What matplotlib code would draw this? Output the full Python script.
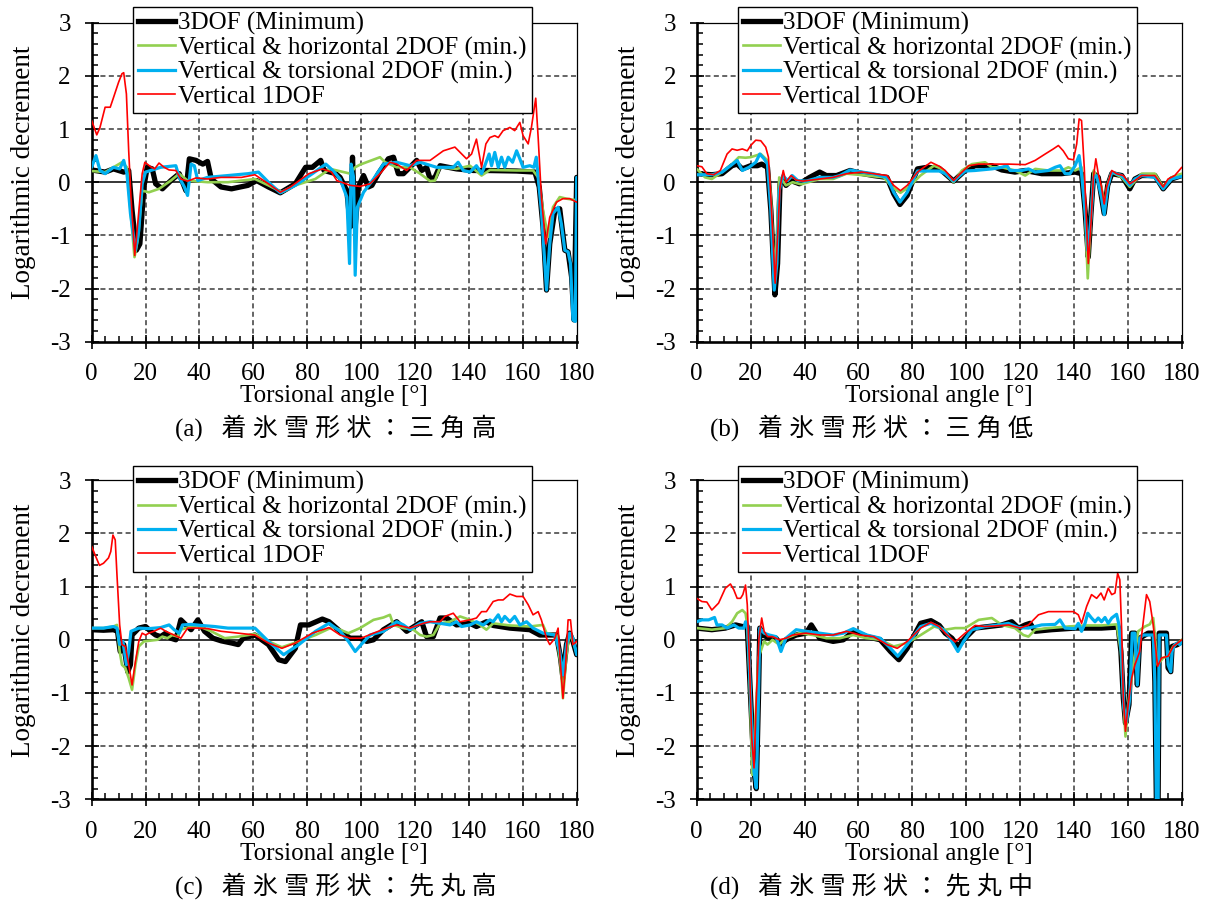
import numpy as np
import matplotlib
matplotlib.use("Agg")
import matplotlib.pyplot as plt
from matplotlib.lines import Line2D
from matplotlib.ticker import MultipleLocator

plt.rcParams['font.family'] = ['Liberation Serif', 'Noto Sans CJK JP']
plt.rcParams['axes.unicode_minus'] = False
plt.rcParams['font.size'] = 18

# ---------------------------------------------------------------------------
# Logarithmic decrement vs. torsional angle, (angle [deg], value) pairs
# ---------------------------------------------------------------------------
# (a) triangle, high
A_3DOF = [(0,0.23),(5,0.19),(8.1,0.25),(11.9,0.19),(13.75,0.22),(15,-0.53),(16.6,-1.28),(17.9,-1.16),(19.4,-0.09),(20.6,0.28),(22.5,0.25),(23.75,-0.03),(26.25,-0.125),(29.4,0.03),(32.5,0.16),(35,-0.16),(36.25,0.44),(38.75,0.41),(41.25,0.34),(43,0.39),(44.4,0.06),(48,-0.09),(51.9,-0.125),(58,-0.06),(61.25,0.03),(65.6,-0.09),(70,-0.2),(75.6,-0.03),(79.4,0.28),(81.9,0.28),(85,0.41),(86.25,0.22),(90.6,0.16),(92.2,0.09),(94.7,-0.16),(96,-0.84),(96.8,0.47),(97.8,-0.84),(99,-0.09),(100.9,0.125),(102.7,-0.09),(104,-0.06),(106.4,0.16),(110.1,0.44),(112,0.47),(113.8,0.16),(115.7,0.16),(118.1,0.28),(120.6,0.41),(122.5,0.22),(124.3,0.28),(125.6,0.06),(127.4,0.09),(129.3,0.31),(135.4,0.25),(141.6,0.22),(146.5,0.22),(157.7,0.21),(164.5,0.19),(166.1,-0.09),(167.5,-0.84),(168.8,-2.03),(170,-1.16),(171.9,-0.53),(173.7,-0.5),(175.6,-1.28),(176.8,-1.31),(178.1,-1.78),(179,-2.59),(180,0.09)]
A_VH2 = [(0,0.21),(5,0.19),(8.1,0.28),(11.25,0.375),(13.1,0.28),(14.4,-0.53),(15.9,-1.41),(17.1,-1.09),(18.75,-0.16),(21.25,-0.19),(25,-0.125),(29.4,0.03),(32.5,0.16),(35.6,0.03),(43,0),(50.6,0),(60.6,0.06),(65.6,-0.06),(70.6,-0.19),(75.6,-0.06),(83,0.06),(88.5,0.25),(93.5,0.19),(96,0.16),(97.8,0.28),(99.6,0.33),(107,0.47),(108.9,0.375),(113.2,0.28),(118.1,0.28),(121.9,0.16),(125.6,0.02),(127.4,0.03),(129.3,0.28),(135.4,0.25),(140.4,0.31),(144.7,0.125),(147.8,0.23),(157.7,0.22),(163.8,0.22),(165.7,0.09),(167.5,-0.53),(169.4,-1.03),(171.2,-0.47),(173.7,-0.28),(176.2,-0.31),(180,-0.34)]
A_VT2 = [(0,0.28),(1.6,0.5),(3.1,0.22),(5,0.16),(8.1,0.28),(10.4,0.25),(11.9,0.41),(13.1,0.16),(14.4,-0.59),(16.25,-1.28),(17.5,-0.91),(18.75,-0.03),(20,0.19),(22.5,0.23),(25.6,0.28),(31.25,0.31),(32.5,0.09),(34.4,-0.09),(35.6,-0.25),(36.9,0.34),(38.1,0.31),(39.4,0.03),(43,0.09),(50.6,0.125),(58,0.16),(61.9,0.19),(65.6,0),(70,-0.2),(75.6,-0.06),(81.9,0.16),(86.9,0.34),(89.5,0.22),(92.2,0.06),(94.7,-0.28),(95.7,-1.53),(96.3,0.34),(97.2,0.09),(97.8,-1.75),(98.6,-0.47),(100.9,-0.19),(104.6,0.06),(108.3,0.34),(113.2,0.375),(118.1,0.31),(121.9,0.375),(128,0.28),(134.2,0.28),(136,0.375),(137.9,0.22),(140.4,0.19),(142.8,0.31),(144.7,0.16),(145.9,0.31),(147.5,0.53),(148.4,0.31),(149.6,0.56),(150.9,0.28),(152.1,0.47),(153.3,0.28),(154.6,0.47),(156.2,0.375),(157.7,0.59),(158.9,0.44),(160.1,0.28),(162.6,0.31),(164.1,0.28),(165,0.47),(165.7,0.09),(166.9,-0.53),(168.8,-2.03),(170,-1.16),(171.2,-0.59),(173.1,-0.47),(174.3,-0.78),(175.6,-1.28),(176.8,-1.31),(177.7,-1.53),(178.6,-2.59),(179.5,-2.62),(180,0.09)]
A_V1 = [(0,1.16),(1.9,0.89),(3.1,1.03),(5,1.41),(6.9,1.41),(8.1,1.59),(10,1.88),(11.25,2.04),(11.9,2.06),(12.9,1.66),(13.75,0.59),(14.6,-0.28),(16,-1.38),(17.1,-0.78),(18.75,0.16),(19.75,0.375),(21.9,0.29),(23.4,0.25),(25,0.36),(26.9,0.28),(28.75,0.23),(31.25,0.22),(33.1,0.06),(35.6,0.02),(38.75,0.08),(43,0.06),(48,0.09),(55.6,0.09),(60.6,0.14),(65.6,-0.03),(70,-0.19),(73.75,-0.09),(80.6,0.16),(85.6,0.25),(89,0.19),(91,0.03),(96,-0.06),(99.6,-0.08),(103.3,-0.03),(107,0.16),(110.7,0.375),(113.2,0.34),(116.9,0.22),(120.6,0.41),(125.6,0.41),(130.5,0.59),(134.8,0.66),(139.1,0.44),(141,0.53),(142.8,0.81),(144.7,0.28),(146.3,0.72),(147.8,0.84),(149.6,0.875),(150.9,0.84),(152.7,0.97),(154,1.0),(155.2,1.03),(157,0.97),(158.9,1.125),(160.1,0.875),(162,0.72),(163.2,1.03),(164.8,1.58),(165.7,0.84),(166.9,-0.28),(168.5,-1.16),(170,-0.66),(172.5,-0.375),(174.9,-0.31),(177.4,-0.31),(180,-0.375)]

# (b) triangle, low
B_3DOF = [(0,0.16),(5.6,0.14),(9.4,0.16),(13.1,0.31),(15,0.34),(16.9,0.25),(20,0.31),(22.5,0.31),(24.1,0.34),(26.25,0.28),(27.5,-0.53),(29,-2.12),(30,-1.53),(30.9,-0.03),(32.1,0.06),(33.1,-0.06),(35,0.03),(38.1,-0.03),(41.9,0.09),(45.6,0.19),(48.1,0.125),(51.9,0.125),(56.9,0.22),(60.6,0.17),(65.6,0.125),(70.6,0.09),(73.1,-0.22),(75.4,-0.42),(78.1,-0.25),(81.9,0.25),(85.6,0.28),(90,0.26),(92.2,0.16),(95.3,0.02),(99.6,0.22),(103.3,0.31),(109.5,0.31),(113.2,0.23),(118.1,0.19),(121.9,0.22),(128,0.16),(135.4,0.16),(140.4,0.19),(142.8,0.16),(144.1,-0.53),(145.3,-1.41),(146.2,-0.66),(147.3,0.16),(149,0.09),(151.2,-0.59),(152.5,-0.06),(154,0.16),(157.7,0.125),(160.7,-0.125),(162.6,0.06),(165.1,0.125),(170,0.125),(173.1,-0.125),(176.2,0.06),(180,0.125)]
B_VH2 = [(0,0.25),(3.1,0.09),(5.6,0.06),(9.4,0.19),(13.1,0.34),(15.6,0.47),(18.1,0.46),(20,0.47),(21.9,0.5),(23.75,0.53),(26.25,0.41),(27.5,-0.28),(28.75,-1.66),(29.6,-1.16),(30.6,0.09),(31.9,0.03),(33.1,-0.06),(35.6,0),(38.75,-0.04),(45.6,0.06),(50.6,0.06),(55.6,0.16),(63,0.125),(69.4,0.09),(72.5,-0.09),(75.6,-0.2),(78.75,-0.09),(83,0.125),(88,0.31),(90.5,0.26),(92.2,0.16),(95.3,0),(98.4,0.22),(102.1,0.34),(107,0.375),(109.5,0.28),(113.2,0.28),(118.1,0.22),(121.9,0.125),(125.6,0.25),(130.5,0.22),(135.4,0.22),(137.9,0.28),(140.4,0.22),(142.8,0.28),(144.1,-0.53),(145.1,-1.81),(146.1,-0.84),(147.3,0.22),(148.4,0.09),(150.2,-0.09),(151.2,-0.47),(152.5,-0.03),(154,0.19),(157.7,0.09),(160.7,-0.09),(165.1,0.16),(170,0.16),(173.1,-0.09),(176.2,0.09),(180,0.16)]
B_VT2 = [(0,0.14),(5.6,0.14),(9.4,0.19),(12.5,0.31),(15,0.41),(16.9,0.22),(19.4,0.28),(21.9,0.375),(23.4,0.53),(25,0.44),(26.25,0.34),(27.5,-0.53),(28.75,-2.03),(29.75,-1.53),(30.6,-0.16),(31.9,0.125),(33.75,0.03),(35.4,0.125),(37.5,0.03),(40.6,0.02),(45.6,0.09),(50.6,0.09),(53.1,0.125),(56.9,0.23),(61.25,0.19),(65.6,0.16),(70.6,0.09),(73.1,-0.19),(75.4,-0.375),(78.1,-0.19),(81.9,0.21),(85.6,0.21),(90,0.21),(92.2,0.16),(95.3,0.02),(99.6,0.21),(103.3,0.22),(109.5,0.25),(113.2,0.28),(115.1,0.31),(116.3,0.22),(120.6,0.22),(123.1,0.25),(125.6,0.19),(130.5,0.22),(133,0.28),(134.8,0.31),(136.7,0.16),(138.5,0.16),(140.4,0.31),(141.9,0.5),(142.8,0.16),(144.1,-0.53),(145.1,-1.28),(146.1,-0.78),(147.3,0.09),(148.4,0.125),(150.2,-0.28),(151.2,-0.61),(152.5,-0.09),(154,0.19),(157.7,0.125),(160.7,-0.06),(162.6,0.06),(165.1,0.125),(170,0.09),(173.1,-0.125),(176.2,0.06),(180,0.11)]
B_V1 = [(0,0.31),(1.9,0.29),(3.75,0.16),(6.25,0.14),(8.75,0.22),(11.25,0.53),(13.1,0.625),(15,0.6),(16.9,0.625),(18.75,0.59),(20,0.69),(21.9,0.79),(23.75,0.78),(25.6,0.66),(26.6,0.47),(27.5,-0.28),(28.4,-1.16),(29.1,-1.9),(30,-1.03),(30.9,-0.09),(32.1,0.22),(33.1,0),(35,0.125),(36.9,0.04),(39.4,0.02),(45.6,0.06),(50.6,0.09),(55.6,0.16),(61.25,0.19),(65.6,0.16),(70.6,0.125),(73.1,-0.06),(75.6,-0.16),(78.1,-0.06),(81.9,0.19),(86.9,0.375),(90,0.3),(92.2,0.22),(95.3,0.03),(97.8,0.16),(100.9,0.31),(104.6,0.34),(109.5,0.34),(115.7,0.34),(121.9,0.33),(125.6,0.41),(129.3,0.53),(132.3,0.625),(134.2,0.69),(136,0.59),(137.9,0.44),(139.8,0.42),(141,0.72),(141.9,1.19),(142.8,1.16),(143.8,0.28),(144.7,-0.84),(145.3,-1.53),(146.3,-0.78),(147.2,0.09),(148.1,0.44),(149,0.16),(150.2,-0.09),(151.2,-0.41),(152.1,-0.09),(154,0.22),(155.8,0.16),(158.3,0.125),(160.7,-0.03),(162.6,0.03),(165.1,0.125),(167.5,0.125),(170,0.125),(173.1,-0.09),(174.9,0.06),(177.4,0.125),(180,0.28)]

# (c) round tip, high
C_3DOF = [(0,0.19),(4.4,0.18),(8.1,0.19),(9.6,0.16),(10.6,-0.22),(11.9,-0.09),(13.4,-0.6),(14.4,-0.47),(15,0.09),(17.5,0.22),(20,0.25),(21.9,0.16),(23.75,0.09),(25.6,0.06),(27.5,0.125),(29.4,0.03),(31.25,0),(33.1,0.375),(35,0.28),(36.9,0.19),(39.4,0.375),(41.9,0.16),(45,0.03),(48.1,-0.02),(51.9,-0.06),(54.4,-0.09),(56.25,0.03),(60.6,0.09),(65.6,-0.09),(69.4,-0.375),(71.9,-0.41),(75.6,-0.16),(77.5,0.28),(80.6,0.28),(85.6,0.39),(88.1,0.34),(92.2,0.16),(95.9,0.03),(99.6,0.03),(102.1,-0.03),(104.6,0),(108.3,0.19),(113.2,0.34),(116.9,0.16),(120.6,0.28),(122.5,0.34),(124.3,0.06),(126.8,0.06),(129.3,0.41),(131.7,0.41),(135.4,0.28),(140.4,0.31),(142.8,0.25),(146.5,0.34),(149,0.27),(155.2,0.22),(162.6,0.19),(166.3,0.09),(172.5,0.09),(174,-0.34),(174.9,-0.72),(176.2,-0.09),(177.4,0.125),(178.6,-0.03),(180,-0.28)]
C_VH2 = [(0,0.22),(4.4,0.22),(8.1,0.25),(9.4,0.28),(10.4,-0.22),(11.25,-0.47),(12.5,-0.53),(13.75,-0.72),(15,-0.94),(16.25,-0.47),(17.5,-0.125),(19.4,-0.03),(24.4,0),(26.25,0.06),(28.1,0.03),(30,0.09),(31.9,0.06),(33.1,0.19),(36.9,0.25),(40,0.25),(44.4,0.16),(49.4,0.03),(54.4,0.06),(60.6,0.11),(65.6,-0.03),(70.6,-0.14),(76.9,-0.03),(83.1,0.09),(89.4,0.24),(92.2,0.19),(95.3,0.125),(99.6,0.22),(104.6,0.375),(108.3,0.42),(110.7,0.47),(112,0.28),(115.7,0.22),(119.4,0.19),(121.9,0.09),(124.3,0.06),(126.8,0.09),(129.3,0.31),(133,0.34),(136.7,0.44),(140.4,0.375),(144.1,0.28),(146.5,0.19),(149,0.31),(155.2,0.27),(162.6,0.25),(167.5,0.28),(168.8,0.125),(172.5,0.09),(174,-0.47),(174.9,-1.1),(176.2,-0.28),(177.4,0.125),(178.6,-0.03),(180,-0.25)]
C_VT2 = [(0,0.22),(4.4,0.22),(8.1,0.25),(9.4,0.22),(10.4,-0.09),(11.6,-0.03),(12.9,-0.47),(13.75,-0.22),(14.6,0.16),(17.5,0.22),(21.25,0.21),(25.6,0.23),(28.75,0.28),(30.6,0.19),(32.5,0.125),(33.75,0.28),(36.9,0.29),(40.6,0.27),(45.6,0.25),(50.6,0.22),(55.6,0.22),(60.6,0.22),(65.6,-0.03),(71.25,-0.28),(76.9,-0.09),(83.1,0.16),(88.1,0.31),(92.2,0.16),(95.3,-0.03),(97.8,-0.22),(100,-0.09),(103.3,0.09),(108.3,0.16),(113.2,0.34),(115.7,0.28),(118.1,0.19),(121.9,0.31),(125.6,0.34),(129.3,0.31),(133,0.28),(135.4,0.34),(137.3,0.25),(140.4,0.28),(142.8,0.34),(145.3,0.28),(147.8,0.375),(149,0.34),(150.9,0.47),(152.1,0.34),(153.3,0.44),(155.2,0.34),(157,0.44),(158.9,0.28),(161.4,0.34),(163.8,0.22),(167.5,0.125),(171.9,0.09),(173.7,-0.22),(174.9,-0.66),(176.2,-0.09),(177.4,0.125),(178.6,0.03),(180,-0.28)]
C_V1 = [(0,1.76),(1.25,1.6),(2.9,1.4),(4.4,1.44),(6.25,1.54),(7.1,1.66),(7.9,1.97),(8.75,1.88),(9.4,1.22),(10.4,0.28),(11.25,-0.09),(12.5,-0.125),(13.75,-0.47),(15,-0.85),(16.25,-0.41),(17.5,-0.03),(18.75,0.125),(20,0.09),(21.25,0.125),(23.1,0.16),(25.6,0.22),(27.5,0.16),(30.6,0.09),(33.1,0.03),(35.6,0.22),(39.4,0.22),(43.1,0.21),(48.1,0.16),(54.4,0.125),(60.6,0.09),(65.6,-0.06),(70.6,-0.16),(75.6,-0.06),(81.9,0.125),(88.1,0.23),(92.2,0.09),(95.9,0.03),(100,0.03),(104.6,0.125),(109.5,0.22),(113.2,0.28),(118.1,0.22),(123.1,0.31),(125.6,0.34),(129.3,0.34),(131.1,0.44),(134.2,0.5),(136.7,0.34),(140.4,0.375),(142.8,0.41),(144.7,0.53),(146.5,0.53),(149,0.72),(150.9,0.75),(152.7,0.75),(155.2,0.86),(157.7,0.815),(160.1,0.815),(162,0.66),(163.8,0.47),(165.7,0.53),(166.9,0.375),(168.8,0.03),(170,-0.09),(171,-0.03),(171.9,0.03),(173.1,0.22),(174,-0.47),(174.9,-1.1),(175.9,-0.47),(176.8,0.375),(177.7,0.375),(178.6,-0.09),(180,-0.03)]

# (d) round tip, medium
D_3DOF = [(0,0.22),(5.6,0.19),(10.6,0.22),(14.4,0.28),(16.9,0.25),(18.75,0.25),(20,-1.1),(21.25,-2.48),(22.1,-2.8),(22.9,-1.1),(23.4,0.22),(24.6,0.09),(26.9,0.03),(29.4,0.03),(31.25,-0.09),(33.1,0),(36.9,0.09),(40.6,0.125),(42.5,0.28),(45.6,0.03),(50.6,-0.03),(54.4,0),(58.1,0.16),(63.1,0.06),(68.1,0),(71.9,-0.22),(75,-0.375),(78.1,-0.16),(83.1,0.31),(86.9,0.36),(90,0.27),(92.2,0.125),(94.7,0.03),(96.9,-0.125),(99.6,0.03),(103.3,0.22),(108.3,0.25),(113.2,0.28),(116.9,0.34),(119.4,0.22),(121.9,0.28),(123.7,0.31),(125.6,0.16),(131.7,0.19),(140.4,0.22),(150.2,0.22),(156.4,0.24),(157.4,-0.22),(158.3,-1.1),(159.1,-1.57),(160.4,-1.22),(161.4,0.125),(162.6,0.125),(163.5,-0.85),(164.4,0.03),(167.5,0.125),(169.4,0.125),(170,-0.78),(170.6,-3.2),(171.2,-3.2),(171.6,0.125),(174.3,0.125),(174.9,-0.53),(175.9,-0.6),(176.4,-0.125),(178.4,-0.09),(180,-0.03)]
D_VH2 = [(0,0.22),(5.6,0.19),(10.6,0.22),(13.1,0.34),(15,0.5),(16.9,0.56),(18.1,0.5),(18.75,0.28),(19.6,-0.72),(20.6,-2.54),(21.6,-1.72),(22.9,-0.34),(25,-0.03),(26.25,-0.09),(28.1,0),(30.6,-0.09),(33.1,0.03),(38.1,0.125),(43.1,0.09),(48.1,0.03),(53.1,0.03),(58.1,0.09),(63.1,0.03),(68.1,0),(73.1,-0.125),(78.1,-0.06),(83.1,0.09),(88.1,0.25),(92.2,0.19),(95.9,0.22),(99.6,0.22),(104.6,0.375),(109.5,0.41),(113.2,0.28),(118.1,0.22),(121.2,0.09),(123.1,0.06),(125.6,0.19),(130.5,0.22),(137.9,0.25),(144.1,0.27),(150.2,0.27),(155.8,0.29),(157.4,-0.22),(158.3,-1.1),(159.1,-1.82),(160.1,-1.22),(162,-0.47),(163.8,0.16),(166.3,0.25),(168.1,0.29),(169.4,0.41),(171,-0.47),(173.1,-0.34),(174.9,-0.31),(176.8,-0.125),(180,0)]
D_VT2 = [(0,0.34),(1.9,0.375),(4.4,0.375),(6.6,0.42),(7.5,0.28),(9.4,0.28),(11.25,0.22),(13.75,0.28),(15.6,0.22),(17.5,0.22),(18.1,0.34),(18.9,0.28),(20,-1.1),(21.25,-2.48),(22.1,-2.79),(22.9,-1.1),(23.4,0.22),(25,0.125),(26.9,0.09),(29.4,0.06),(31.25,-0.22),(33.1,0.03),(36.9,0.19),(40.6,0.16),(45.6,0.125),(50.6,0.09),(54.4,0.125),(58.1,0.21),(63.1,0.09),(68.1,0.03),(71.25,-0.125),(74.6,-0.31),(78.1,-0.09),(83.1,0.25),(86.9,0.31),(90,0.24),(92.2,0.16),(94.7,-0.03),(96.9,-0.22),(99,-0.03),(102.1,0.19),(107,0.25),(112,0.28),(115.7,0.31),(119.4,0.23),(123.1,0.22),(128,0.28),(133,0.29),(134.8,0.375),(136.7,0.22),(140.4,0.21),(141.6,0.31),(142.8,0.16),(144.1,0.31),(145.1,0.5),(146.5,0.41),(147.8,0.34),(149,0.41),(150.2,0.34),(151.5,0.42),(152.7,0.31),(154,0.41),(155.8,0.48),(156.7,0.28),(157.7,-0.34),(158.5,-1.28),(159.5,-1.53),(160.7,-1.1),(161.6,0.125),(162.6,0.125),(163.5,-0.85),(164.4,0.03),(165.7,0.09),(169.4,0.09),(170,-0.78),(170.6,-3.2),(171.2,-3.2),(171.6,0.09),(174.3,0.09),(174.9,-0.47),(175.9,-0.6),(176.4,-0.22),(177.4,-0.09),(178.4,-0.06),(179.3,-0.09),(180,-0.03)]
D_V1 = [(0,0.78),(1.9,0.72),(3.75,0.71),(5.6,0.56),(8.1,0.69),(10.6,0.97),(12.5,1.05),(13.75,0.94),(15,0.78),(16.25,0.78),(17.1,0.85),(18.1,1.03),(18.75,0.66),(19.6,-0.47),(20.4,-1.85),(21.25,-2.41),(22.1,-1.1),(23.1,0.03),(24.1,0.41),(25,0.16),(26.25,0.06),(28.1,0.06),(30.6,0),(33.1,0.03),(35.6,0.09),(40.6,0.125),(45.6,0.09),(50.6,0.09),(55.6,0.16),(60.6,0.09),(65.6,0.06),(70.6,-0.09),(74.4,-0.16),(78.1,-0.03),(83.1,0.22),(86.9,0.33),(90,0.25),(92.2,0.125),(95.9,-0.04),(99.6,0.125),(103.3,0.27),(107,0.25),(110.7,0.26),(115.7,0.28),(120,0.22),(123.1,0.28),(126.8,0.47),(130.5,0.53),(135.4,0.53),(139.8,0.53),(141.6,0.47),(142.8,0.31),(144.7,0.63),(146.5,0.85),(148.4,0.78),(150,0.88),(151.2,0.75),(152.7,0.97),(154,0.85),(155.2,0.88),(156.2,1.25),(157,1.13),(157.7,0.16),(158.3,-1.1),(159.1,-1.72),(160.1,-1.22),(161.4,-0.72),(162.6,-0.47),(164.4,-0.22),(165.7,0.34),(166.9,0.85),(168.1,0.72),(169.4,0.28),(171,-0.5),(172.5,-0.34),(174.9,-0.31),(176.8,-0.125),(180,0)]

SERIES_LABELS = ["3DOF (Minimum)",
                 "Vertical & horizontal 2DOF (min.)",
                 "Vertical & torsional 2DOF (min.)",
                 "Vertical 1DOF"]
CAPTIONS = ["(a)   着 氷 雪 形 状 ： 三 角 高",
            "(b)   着 氷 雪 形 状 ： 三 角 低",
            "(c)   着 氷 雪 形 状 ： 先 丸 高",
            "(d)   着 氷 雪 形 状 ： 先 丸 中"]
X_TICKS = list(range(0, 181, 20))
Y_TICKS = list(range(-3, 4))

COLORS = ["black", "#92D050", "#00B0F0", "#FF0000"]
WIDTHS = [3.8, 1.9, 2.3, 1.2]

fig = plt.figure(figsize=(12.09, 9.01), dpi=100)

W, H = 0.4012, 0.354
positions = [(0.0758, 0.6208), (0.5763, 0.6208), (0.0758, 0.1129), (0.5763, 0.1129)]
caption_pos = [(0.1447, 0.5255), (0.5873, 0.5255), (0.1447, 0.0175), (0.5873, 0.0175)]
panels = [(A_3DOF, A_VH2, A_VT2, A_V1), (B_3DOF, B_VH2, B_VT2, B_V1),
          (C_3DOF, C_VH2, C_VT2, C_V1), (D_3DOF, D_VH2, D_VT2, D_V1)]

for k, (pos, series) in enumerate(zip(positions, panels)):
    ax = fig.add_axes([pos[0], pos[1], W, H])
    ax.set_xlim(0, 180)
    ax.set_ylim(-3, 3)
    ax.set_xticks(X_TICKS)
    ax.set_yticks(Y_TICKS)
    ax.xaxis.set_minor_locator(MultipleLocator(5))
    ax.yaxis.set_minor_locator(MultipleLocator(0.2))

    # dashed grid at the interior major ticks
    for gx in X_TICKS[1:-1]:
        ax.axvline(gx, color="#3a3a3a", lw=1.1, ls=(0, (3.3, 2.2)), zorder=1)
    for gy in Y_TICKS[1:-1]:
        if gy != 0:
            ax.axhline(gy, color="#3a3a3a", lw=1.1, ls=(0, (3.3, 2.2)), zorder=1)
    ax.axhline(0, color="black", lw=1.1, zorder=1.5)

    for s, (data, c, w) in enumerate(zip(series, COLORS, WIDTHS)):
        arr = np.array(data, dtype=float)
        ax.plot(arr[:, 0], arr[:, 1], color=c, lw=w, zorder=2 + s,
                solid_joinstyle="round", solid_capstyle="round")

    for side in ("left", "bottom"):
        ax.spines[side].set_linewidth(1.9)
    for side in ("top", "right"):
        ax.spines[side].set_linewidth(0.9)

    ax.tick_params(which="major", direction="inout", length=10, width=1.2,
                   labelsize=18, top=False, right=False)
    ax.tick_params(which="minor", direction="in", length=4.5, width=1.1,
                   top=False, right=False)
    ax.tick_params(axis="y", which="major", pad=10)
    ax.tick_params(axis="x", which="major", pad=10.5)

    ax.set_xlabel("Torsional angle [°]", fontsize=18, labelpad=0)
    ax.set_ylabel("Logarithmic decrement", fontsize=19.5)
    ax.yaxis.set_label_coords(-0.115, 0.53)

    handles = [Line2D([], [], color=c, lw=w) for c, w in zip(COLORS, WIDTHS)]
    leg = ax.legend(handles, SERIES_LABELS, loc="upper left",
                    bbox_to_anchor=(0.085, 1.049 if k < 2 else 1.044),
                    borderaxespad=0, fontsize=18, frameon=True, fancybox=False,
                    framealpha=1, edgecolor="black", handlelength=1.5,
                    handletextpad=0.12, labelspacing=0.05, borderpad=0.2)
    leg.get_frame().set_linewidth(1.0)
    leg.set_zorder(10)

    fig.text(caption_pos[k][0], caption_pos[k][1], CAPTIONS[k], fontsize=18,
             ha="left", va="center")

fig.savefig("out.png", dpi=100)
